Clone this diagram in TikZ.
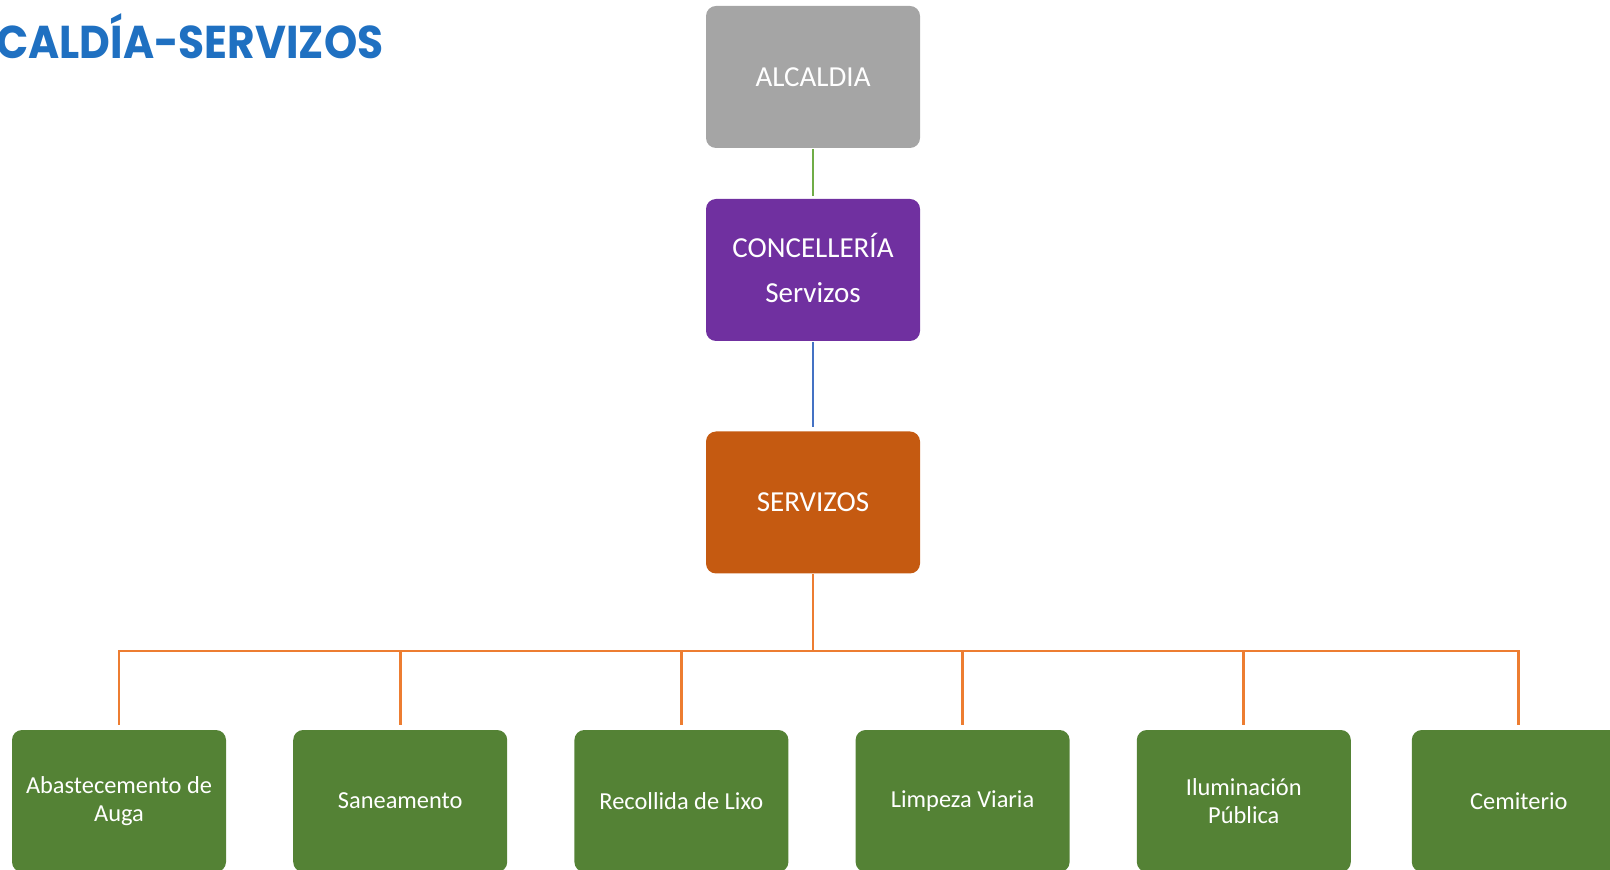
\documentclass[tikz,border=0pt]{standalone}
\usepackage{fontspec}
\setmainfont{Carlito}
\newfontfamily\titlefont{Poppins}
\usetikzlibrary{positioning}
\definecolor{alcgray}{HTML}{A5A5A5}
\definecolor{concpurple}{HTML}{7030A0}
\definecolor{servorange}{HTML}{C55A11}
\definecolor{leafgreen}{HTML}{548235}
\definecolor{titleblue}{HTML}{1F70C1}
\definecolor{linegreen}{HTML}{70AD47}
\definecolor{lineblue}{HTML}{4472C4}
\definecolor{lineorange}{HTML}{ED7D31}

\begin{document}
\begin{tikzpicture}[shorten >=1pt,node distance=140.6pt,on grid,line width=1pt,
		box/.style={rectangle,rounded corners=5pt,minimum width=107pt,minimum height=71pt,
			text=white,align=center,font=\fontsize{14.5}{22.5}\selectfont},
		leaf/.style={box,fill=leafgreen,font=\fontsize{12.2}{14}\selectfont}]
		\useasboundingbox (0,0) rectangle (805pt,-435pt);
		\node[anchor=base east,text=titleblue,font=\titlefont\bfseries\fontsize{23}{23}\selectfont] (title) at (195.5pt,-29.2pt) {\scalebox{0.92}[1]{ALCALDÍA-SERVIZOS}};
		\node[box,fill=alcgray] (alc) at (406.5pt,-38.5pt) {ALCALDIA};
		\node[box,fill=concpurple] (conc) [below=96.5pt of alc] {\raisebox{2pt}{CONCELLERÍA}\\\raisebox{2pt}{Servizos}};
		\node[box,fill=servorange] (serv) [below=116.25pt of conc] {SERVIZOS};
		\node[leaf] (b_1) at (59.5pt,-400.5pt) {Abastecemento de\\Auga};
		\node[leaf] (b_2) [right=of b_1] {Saneamento};
		\node[leaf] (b_3) [right=of b_2] {Recollida de Lixo};
		\node[leaf] (b_4) [right=of b_3] {Limpeza Viaria};
		\node[leaf] (b_5) [right=of b_4] {Iluminación\\Pública};
		\node[leaf] (b_6) [right=137.5pt of b_5] {Cemiterio};
		\coordinate (bar) at (0,-325.5pt);
		\draw[linegreen] (alc) -- (conc);
		\draw[lineblue,shorten >=1.5pt] (conc) -- (serv);
		\draw[lineorange,line width=1.4pt,shorten >=0pt] (serv) -- (serv.south |- bar);
		\draw[lineorange,line width=1.4pt,shorten >=0pt,line cap=rect] (b_1.north |- bar) -- (b_6.north |- bar);
		\foreach \i in {1,...,6}
		\draw[lineorange,line width=1.4pt,shorten >=2pt] (b_\i.north |- bar) -- (b_\i);
\end{tikzpicture}
\end{document}
